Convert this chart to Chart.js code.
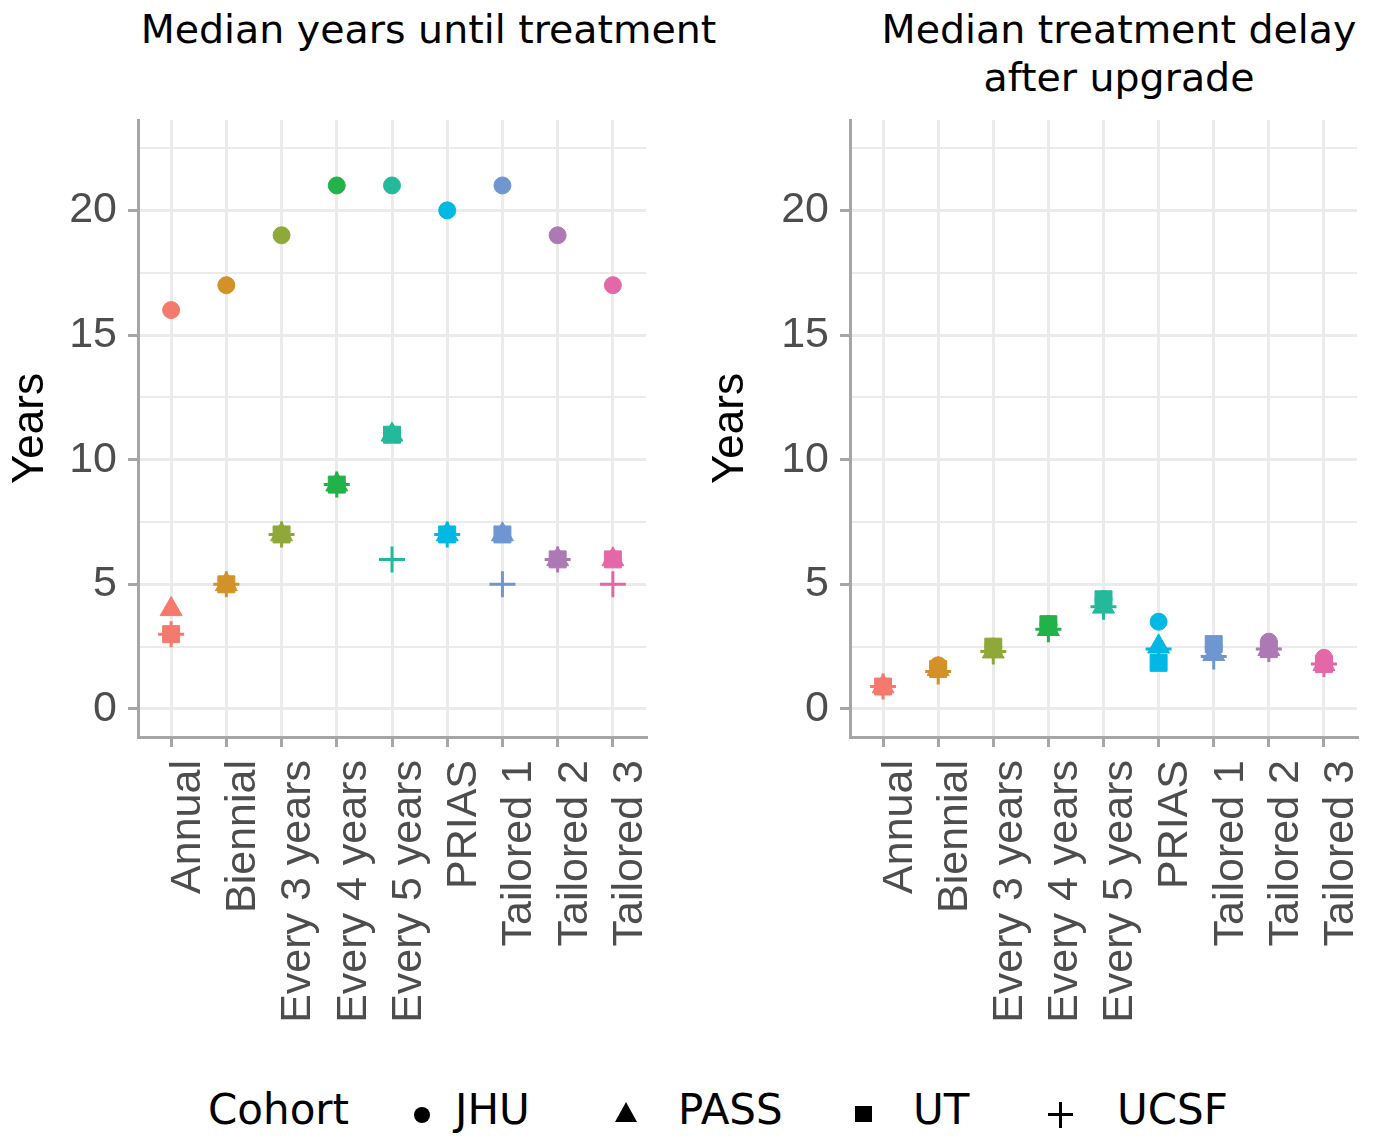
<!DOCTYPE html>
<html>
<head>
<meta charset="utf-8">
<script src="https://cdn.jsdelivr.net/npm/chart.js@4.4.1/dist/chart.umd.min.js"></script>
<style>
  body { margin:0; background:#fff; }
  #wrap { position:relative; width:1376px; height:1138px; overflow:hidden; font-family:"DejaVu Sans", sans-serif; }
  canvas { position:absolute; top:0; }
  .ttl { position:absolute; font-size:39.5px; color:#000; text-align:center; line-height:48px; white-space:nowrap; }
  .lg { position:absolute; top:1089px; font-size:42px; line-height:1; color:#000; }
  .mk { position:absolute; background:#000; }
</style>
</head>
<body>
<div id="wrap">
  <div class="ttl" style="left:0;width:857px;top:5px">Median years until treatment</div>
  <div class="ttl" style="left:870px;width:498px;top:5px">Median treatment delay<br>after upgrade</div>
  <canvas id="left" width="662" height="1060" style="left:0"></canvas>
  <canvas id="right" width="673" height="1060" style="left:700px"></canvas>

  <!-- legend -->
  <span class="lg" style="left:208px">Cohort</span>
  <div class="mk" style="left:414px;top:1107px;width:16px;height:16px;border-radius:50%"></div>
  <span class="lg" style="left:455px">JHU</span>
  <div class="mk" style="left:615px;top:1102px;width:22px;height:20px;clip-path:polygon(50% 0,100% 100%,0 100%)"></div>
  <span class="lg" style="left:678px">PASS</span>
  <div class="mk" style="left:855px;top:1106px;width:17px;height:16px"></div>
  <span class="lg" style="left:913px">UT</span>
  <div class="mk" style="left:1048px;top:1113px;width:25px;height:3px"></div>
  <div class="mk" style="left:1059px;top:1102px;width:3px;height:26px"></div>
  <span class="lg" style="left:1117px">UCSF</span>
</div>
<script>
// categories (screening schedules)
const schedules = ['Annual', 'Biennial', 'Every 3 years', 'Every 4 years', 'Every 5 years',
  'PRIAS', 'Tailored 1', 'Tailored 2', 'Tailored 3'];
const schedColors = ['#F47A6E', '#D39229', '#8FA83A', '#22B24A', '#25B99B',
  '#00B8E4', '#6F96D1', '#AD79B4', '#E468A8'];

// median years until treatment
const yearsJHU  = [16, 17, 19, 21, 21, 20, 21, 19, 17];
const yearsPASS = [4, 5, 7, 9, 11, 7, 7, 6, 6];
const yearsUT   = [3, 5, 7, 9, 11, 7, 7, 6, 6];
const yearsUCSF = [3, 5, 7, 9, 6, 7, 5, 6, 5];

// median treatment delay after upgrade
const delayJHU  = [0.9, 1.75, 2.5, 3.4, 4.4, 3.5, 2.5, 2.7, 2.05];
const delayPASS = [0.9, 1.6, 2.3, 3.2, 4.1, 2.5, 2.2, 2.4, 1.8];
const delayUT   = [0.9, 1.6, 2.5, 3.4, 4.4, 1.85, 2.6, 2.4, 1.8];
const delayUCSF = [0.9, 1.5, 2.3, 3.2, 4.1, 2.4, 2.1, 2.4, 1.8];

const yTicks = [0, 2.5, 5, 7.5, 10, 12.5, 15, 17.5, 20, 22.5];

const axisGrey = '#a6a6a6', gridGrey = '#ebebeb';
const tickFont = {family:'"Liberation Sans", Arial, sans-serif', size:43};

function mkSet(label, vals, style, radius, order) {
  return {
    label, order,
    data: vals.map((v, i) => ({x:i, y:v})),
    pointStyle: style,
    pointRadius: radius,
    pointBackgroundColor: schedColors,
    pointBorderColor: schedColors,
    pointBorderWidth: style === 'cross' ? 3 : 1,
    showLine: false
  };
}

function makeChart(id, sets, yWidth, padRight) {
  return new Chart(document.getElementById(id), {
    type: 'scatter',
    data: {datasets: sets},
    options: {
      responsive: false,
      animation: false,
      layout: {padding: {top:120, right:padRight, left:0, bottom:0}},
      plugins: {legend:{display:false}, tooltip:{enabled:false}},
      scales: {
        x: {
          type: 'linear', min: -0.6, max: schedules.length - 0.4,
          afterBuildTicks: s => { s.ticks = schedules.map((c, i) => ({value:i})); },
          afterFit: s => { s.height = 323; s.paddingLeft = 0; s.paddingRight = 0; },
          ticks: {
            autoSkip: false, maxRotation: 90, minRotation: 90,
            padding: 13, labelOffset: 17,
            color: '#4d4d4d', font: tickFont,
            callback: v => schedules[v]
          },
          grid: {color: gridGrey, lineWidth: 3, tickColor: axisGrey, tickWidth: 3, tickLength: 10},
          border: {color: axisGrey, width: 3}
        },
        y: {
          min: -1.125, max: 23.625,
          afterBuildTicks: s => { s.ticks = yTicks.map(v => ({value:v})); },
          afterFit: s => { s.width = yWidth; },
          ticks: {
            padding: 11, color: '#4d4d4d', font: tickFont,
            callback: v => (v % 5 === 0 ? v : '')
          },
          grid: {
            color: gridGrey,
            lineWidth: c => (c.tick && c.tick.value % 5 === 0 ? 3 : 2),
            tickColor: c => (c.tick && c.tick.value % 5 === 0 ? axisGrey : 'rgba(0,0,0,0)'),
            tickWidth: 3, tickLength: 10
          },
          border: {color: axisGrey, width: 3},
          title: {display: true, text: 'Years', color: '#000',
            font: {family:'"Liberation Sans", Arial, sans-serif', size:44}, padding: {top:4, bottom:0}}
        }
      }
    }
  });
}

makeChart('left', [
  mkSet('JHU', yearsJHU, 'circle', 8.5, 4),
  mkSet('PASS', yearsPASS, 'triangle', 12.7, 3),
  mkSet('UT', yearsUT, 'rect', 12, 2),
  mkSet('UCSF', yearsUCSF, 'cross', 13, 1)
], 138, 10);

makeChart('right', [
  mkSet('JHU', delayJHU, 'circle', 8.5, 4),
  mkSet('PASS', delayPASS, 'triangle', 12.7, 3),
  mkSet('UT', delayUT, 'rect', 12, 2),
  mkSet('UCSF', delayUCSF, 'cross', 13, 1)
], 150, 7);
</script>
</body>
</html>
